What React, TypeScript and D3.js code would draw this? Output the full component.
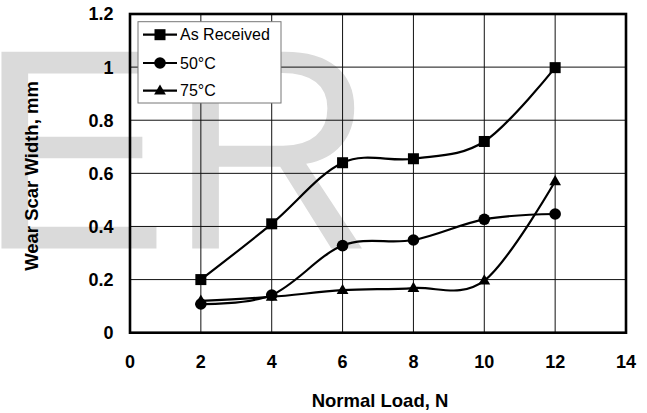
import React from "react";
import * as d3 from "d3";

// Wear scar width (mm) versus normal load (N) for three sample conditions
const loads = [2, 4, 6, 8, 10, 12];
const asReceived = [0.2, 0.41, 0.64, 0.655, 0.72, 0.998];
const temp50 = [0.108, 0.142, 0.328, 0.349, 0.427, 0.447];
const temp75 = [0.12, 0.135, 0.16, 0.168, 0.196, 0.57];
const seriesNames = ["As Received", "50°C", "75°C"];
const markerKinds = ["square", "circle", "triangle"];
const xTicks = [0, 2, 4, 6, 8, 10, 12, 14];
const yTicks = [0, 0.2, 0.4, 0.6, 0.8, 1, 1.2];

const W = 647;
const H = 413;
const plot = { left: 130, right: 626, top: 14, bottom: 332.7 };
const FONT = "Arial, 'Liberation Sans', sans-serif";

function Marker({ kind, x, y }: { kind: string; x: number; y: number }) {
  if (kind === "square") {
    return <rect x={x - 5.5} y={y - 5.5} width={11} height={11} fill="#000" />;
  }
  if (kind === "circle") {
    return <circle cx={x} cy={y} r={5.8} fill="#000" />;
  }
  const s = d3.symbol().type(d3.symbolTriangle).size(60)();
  return <path d={s || ""} transform={`translate(${x},${y + 0.5})`} fill="#000" />;
}

export default function App() {
  const x = d3.scaleLinear().domain([0, 14]).range([plot.left, plot.right]);
  const y = d3.scaleLinear().domain([0, 1.2]).range([plot.bottom, plot.top]);

  const line = d3
    .line<[number, number]>()
    .x((d) => x(d[0]))
    .y((d) => y(d[1]))
    .curve(d3.curveCardinal.tension(0));

  const allSeries = [asReceived, temp50, temp75];

  const legendRows = [34.7, 63, 90.7];

  return (
    <svg
      width={W}
      height={H}
      viewBox={`0 0 ${W} ${H}`}
      style={{ position: "absolute", left: 0, top: 0, background: "#fff" }}
      fontFamily={FONT}
    >
      <rect x={0} y={0} width={W} height={H} fill="#fff" />

      {/* background lettering */}
      <text x={-22} y={248.5} fontSize={286} fill="#dadada" fontFamily={FONT}>
        ER
      </text>

      {/* grid */}
      {xTicks.slice(1, -1).map((t) => (
        <line key={`gx${t}`} x1={x(t)} x2={x(t)} y1={plot.top} y2={plot.bottom} stroke="#111" strokeWidth={1} />
      ))}
      {yTicks.slice(1, -1).map((t) => (
        <line key={`gy${t}`} x1={plot.left} x2={plot.right} y1={y(t)} y2={y(t)} stroke="#111" strokeWidth={1} />
      ))}

      {/* plot frame */}
      <rect
        x={plot.left}
        y={plot.top}
        width={plot.right - plot.left}
        height={plot.bottom - plot.top}
        fill="none"
        stroke="#000"
        strokeWidth={2.6}
      />

      {/* series lines */}
      {allSeries.map((vals, i) => (
        <path
          key={`l${i}`}
          d={line(loads.map((l, j) => [l, vals[j]] as [number, number])) || ""}
          fill="none"
          stroke="#000"
          strokeWidth={2.2}
        />
      ))}

      {/* markers */}
      {allSeries.map((vals, i) =>
        loads.map((l, j) => <Marker key={`m${i}-${j}`} kind={markerKinds[i]} x={x(l)} y={y(vals[j])} />)
      )}

      {/* tick labels */}
      {xTicks.map((t) => (
        <text key={`xt${t}`} x={x(t)} y={368} textAnchor="middle" fontSize={18} fontWeight="bold" fill="#000">
          {t}
        </text>
      ))}
      {yTicks.map((t) => (
        <text
          key={`yt${t}`}
          x={113.5}
          y={y(t)}
          dy="0.36em"
          textAnchor="end"
          fontSize={18}
          fontWeight="bold"
          fill="#000"
        >
          {t}
        </text>
      ))}

      {/* axis titles */}
      <text x={380} y={407} textAnchor="middle" fontSize={18.5} fontWeight="bold" fill="#000">
        Normal Load, N
      </text>
      <text
        transform="translate(38,176) rotate(-90)"
        textAnchor="middle"
        fontSize={18.5}
        fontWeight="bold"
        fill="#000"
      >
        Wear Scar Width, mm
      </text>

      {/* legend */}
      <rect x={138} y={21.7} width={143} height={81.3} fill="#fff" stroke="#777" strokeWidth={1} />
      {seriesNames.map((name, i) => (
        <g key={`lg${i}`}>
          <line x1={143} x2={177} y1={legendRows[i]} y2={legendRows[i]} stroke="#000" strokeWidth={2.2} />
          <Marker kind={markerKinds[i]} x={160} y={legendRows[i]} />
          <text x={180} y={legendRows[i]} dy="0.36em" fontSize={16} fill="#000">
            {name}
          </text>
        </g>
      ))}
    </svg>
  );
}
